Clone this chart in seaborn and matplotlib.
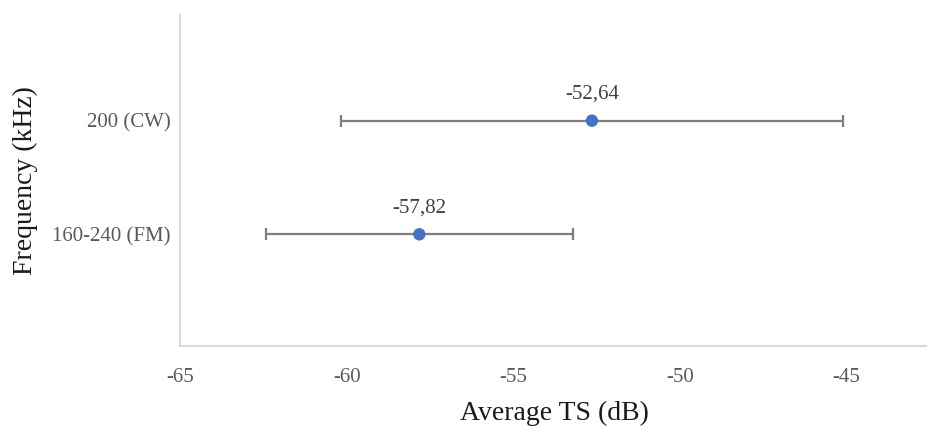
import matplotlib
matplotlib.use("Agg")
import matplotlib.pyplot as plt
import seaborn as sns
import pandas as pd

categories = ["160-240 (FM)", "200 (CW)"]
mean_ts = [-57.82, -52.64]
err_ts = [4.60, 7.52]
value_labels = ["-57,82", "-52,64"]
x_ticks = [-65, -60, -55, -50, -45]
x_tick_labels = ["-65", "-60", "-55", "-50", "-45"]

positions = [1, 2]
df = pd.DataFrame({"cat": categories, "ts": mean_ts, "err": err_ts, "pos": positions})

sns.set_theme(style="white")
plt.rcParams["font.family"] = ["Liberation Serif", "DejaVu Serif"]

fig = plt.figure(figsize=(9.28, 4.26), dpi=100)
ax = fig.add_axes([180 / 928, 80 / 426, 748 / 928, 331 / 426])

ax.errorbar(df["ts"], df["pos"], xerr=df["err"], fmt="none",
            ecolor="#7f7f7f", elinewidth=1.6, capsize=4, capthick=1.6, zorder=2)
sns.scatterplot(data=df, x="ts", y="pos", ax=ax, color="#4472C4", s=80,
                edgecolor="none", zorder=3, legend=False)

for x, y, lab in zip(df["ts"], df["pos"], value_labels):
    ax.annotate(lab, (x, y), xytext=(0, 12), textcoords="offset points",
                ha="center", va="bottom", fontsize=15, color="#404040")

ax.set_xlim(-65, -65 + 748 / 33.33)
ax.set_ylim(0.017, 2.93)
ax.set_xticks(x_ticks)
ax.set_xticklabels(x_tick_labels)
ax.set_yticks(positions)
ax.set_yticklabels(categories)
ax.tick_params(axis="both", length=0, labelsize=15, labelcolor="#595959")
ax.tick_params(axis="x", pad=16)
ax.tick_params(axis="y", pad=7)

ax.set_xlabel("Average TS (dB)", fontsize=20, color="#1a1a1a", labelpad=10)
ax.set_ylabel("Frequency (kHz)", fontsize=20, color="#1a1a1a", labelpad=10)

for s in ["top", "right"]:
    ax.spines[s].set_visible(False)
for s in ["left", "bottom"]:
    ax.spines[s].set_color("#d9d9d9")
    ax.spines[s].set_linewidth(1.5)

fig.savefig("out.png", dpi=100, facecolor="white")
